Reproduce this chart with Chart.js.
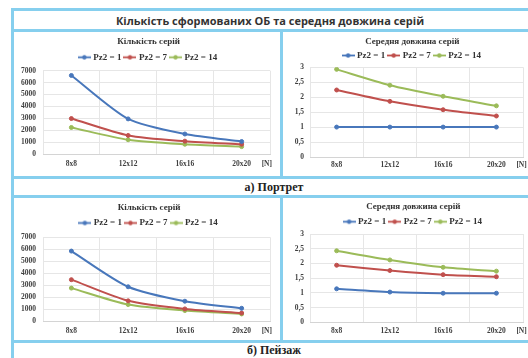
<!DOCTYPE html>
<html>
<head>
<meta charset="utf-8">
<script src="https://cdn.jsdelivr.net/npm/chart.js@4"></script>
<style>
  html, body { margin: 0; padding: 0; background: #ffffff; }
  #page { position: relative; width: 528px; height: 358px; overflow: hidden; background: #fff; }
  .ln { position: absolute; background: #86cfee; }
  .cell { position: absolute; }
  .cell canvas { display: block; }
  .txt { position: absolute; text-align: center; white-space: nowrap; }
  #mainTitle { left: 15px; width: 510px; top: 12px; height: 17px; line-height: 17px;
    font-family: "Open Sans", sans-serif; font-weight: 700; font-size: 11px; color: #333; }
  .cap { left: 15px; width: 518px; font-family: "Liberation Serif", serif; font-weight: 700;
    font-size: 12px; color: #222; }
</style>
</head>
<body>
<div id="page">
  <div class="ln" style="left:11px;top:8px;width:517px;height:3px"></div>
  <div class="ln" style="left:11px;top:29px;width:517px;height:3px"></div>
  <div class="ln" style="left:11px;top:176px;width:517px;height:3px"></div>
  <div class="ln" style="left:11px;top:195px;width:517px;height:3px"></div>
  <div class="ln" style="left:11px;top:340px;width:517px;height:3px"></div>
  <div class="ln" style="left:11px;top:8px;width:3px;height:350px"></div>
  <div class="ln" style="left:280px;top:32px;width:3px;height:144px"></div>
  <div class="ln" style="left:280px;top:198px;width:3px;height:142px"></div>

  <div class="txt" id="mainTitle">Кількість сформованих ОБ та середня довжина серій</div>
  <div class="txt cap" style="top:179px;height:16px;line-height:16px">а) Портрет</div>
  <div class="txt cap" style="top:343px;height:15px;line-height:15px">б) Пейзаж</div>

  <div class="cell" style="left:15px;top:33px;width:265px;height:143px"><canvas id="c1" width="265" height="143"></canvas></div>
  <div class="cell" style="left:284px;top:33px;width:244px;height:143px"><canvas id="c2" width="244" height="143"></canvas></div>
  <div class="cell" style="left:15px;top:198px;width:265px;height:142px"><canvas id="c3" width="265" height="142"></canvas></div>
  <div class="cell" style="left:284px;top:198px;width:244px;height:142px"><canvas id="c4" width="244" height="142"></canvas></div>
</div>
<script>
// ---------- data ----------
const categories = ['8x8', '12x12', '16x16', '20x20'];
const seriesNames = ['Pz2 = 1', 'Pz2 = 7', 'Pz2 = 14'];
const axisUnit = '[N]';
const countTitle = 'Кількість серій';
const lengthTitle = 'Середня довжина серій';

const portraitCount1  = [6600, 2950, 1680, 1050];
const portraitCount7  = [2980, 1560, 1080, 820];
const portraitCount14 = [2230, 1200, 820, 620];

const portraitLen1  = [1.0, 1.0, 1.0, 1.0];
const portraitLen7  = [2.24, 1.86, 1.58, 1.37];
const portraitLen14 = [2.93, 2.40, 2.03, 1.71];

const landscapeCount1  = [5850, 2880, 1680, 1090];
const landscapeCount7  = [3470, 1710, 1040, 700];
const landscapeCount14 = [2770, 1400, 900, 620];

const landscapeLen1  = [1.14, 1.03, 0.99, 0.99];
const landscapeLen7  = [1.94, 1.76, 1.62, 1.55];
const landscapeLen14 = [2.43, 2.12, 1.87, 1.74];

const countTicks  = ['0', '1000', '2000', '3000', '4000', '5000', '6000', '7000'];
const lengthTicks = ['0', '0,5', '1', '1,5', '2', '2,5', '3'];

// ---------- styling ----------
const colors = ['#4877bb', '#c0504d', '#9bbb59'];
const SERIF = '"Liberation Serif", "Times New Roman", serif';
const TICK_COLOR = '#3f3f3f';

function legendImage(color) {
  const c = document.createElement('canvas');
  c.width = 13; c.height = 7;
  const g = c.getContext('2d');
  g.strokeStyle = color; g.lineWidth = 1.8;
  g.beginPath(); g.moveTo(0, 3.5); g.lineTo(13, 3.5); g.stroke();
  g.fillStyle = color;
  g.beginPath(); g.arc(6.5, 3.5, 2.2, 0, Math.PI * 2); g.fill();
  return c;
}
const legendImgs = colors.map(legendImage);

const unitPlugin = {
  id: 'unitLabel',
  afterDraw(chart) {
    const xs = chart.scales.x;
    const ctx = chart.ctx;
    ctx.save();
    ctx.font = 'bold 7.5px ' + SERIF;
    ctx.fillStyle = TICK_COLOR;
    ctx.textAlign = 'left';
    ctx.textBaseline = 'middle';
    const x = xs.getPixelForValue(categories.length - 1) + 20;
    const y = xs.top + xs.options.ticks.padding + 4.5;
    ctx.fillText(axisUnit, x, y);
    ctx.restore();
  }
};

const headerPlugin = {
  id: 'header',
  afterInit(chart, args, opts) {
    const lg = chart.legend;
    if (lg && !lg._trimWrapped) {
      const orig = lg.fit.bind(lg);
      lg.fit = function () { orig(); this.height -= (opts.trim || 0); };
      lg._trimWrapped = true;
    }
  },
  afterLayout(chart, args, opts) {
    const dx = opts.dx || 0;
    if (chart.titleBlock) { chart.titleBlock.left += dx; chart.titleBlock.right += dx; }
    if (chart.legend) { chart.legend.left += dx; chart.legend.right += dx; }
  }
};

function makeChart(id, title, dataArrays, yMax, yStep, tickLabels, L) {
  const datasets = dataArrays.map((arr, i) => ({
    label: seriesNames[i],
    data: arr,
    borderColor: colors[i],
    backgroundColor: colors[i],
    pointBackgroundColor: colors[i],
    pointBorderColor: colors[i],
    pointRadius: 2,
    pointBorderWidth: 1,
    pointStyle: 'circle',
    borderWidth: 2,
    tension: 0.25,
    fill: false
  }));
  return new Chart(document.getElementById(id), {
    type: 'line',
    data: { labels: categories, datasets },
    plugins: [unitPlugin, headerPlugin],
    options: {
      responsive: false,
      animation: false,
      devicePixelRatio: 1,
      layout: { padding: { left: 0, right: L.padRight, top: 0, bottom: L.padBottom } },
      plugins: {
        header: { trim: L.trim, dx: L.dx },
        title: {
          display: true, text: title, color: '#333',
          font: { family: SERIF, size: 9, weight: 'bold', lineHeight: 1.1 },
          padding: { top: L.titleTop, bottom: L.titleBottom }
        },
        legend: {
          display: true,
          labels: {
            color: '#333',
            font: { family: SERIF, size: 9, weight: 'bold' },
            usePointStyle: true,
            pointStyleWidth: 9,
            padding: 4,
            generateLabels(chart) {
              return chart.data.datasets.map((d, i) => ({
                text: d.label, fillStyle: colors[i], strokeStyle: colors[i],
                lineWidth: 0, pointStyle: legendImgs[i], datasetIndex: i, hidden: false,
                fontColor: '#333'
              }));
            }
          }
        },
        tooltip: { enabled: false }
      },
      scales: {
        x: {
          type: 'category',
          offset: true,
          grid: { color: '#e6e6e6', lineWidth: 1, offset: true, drawTicks: false },
          border: { color: '#d4d4d4' },
          ticks: { color: TICK_COLOR, font: { family: SERIF, size: 7.5, weight: 'bold' }, padding: L.xPad, maxRotation: 0, autoSkip: false }
        },
        y: {
          min: 0, max: yMax,
          grid: { color: '#e6e6e6', lineWidth: 1, drawTicks: false },
          border: { display: false },
          ticks: {
            stepSize: yStep, color: TICK_COLOR, padding: L.yPad, autoSkip: false,
            font: { family: SERIF, size: 7.5, weight: 'bold' },
            callback: (v, i) => tickLabels[i]
          },
          afterFit(scale) { scale.width = L.yWidth; }
        }
      }
    }
  });
}

makeChart('c1', countTitle, [portraitCount1, portraitCount7, portraitCount14], 7000, 1000, countTicks,
  { padRight: 10, padBottom: 2, titleTop: 4.05, titleBottom: 1.85, trim: 1.1, xPad: 5.5, yPad: 7, yWidth: 28, dx: 6 });
makeChart('c2', lengthTitle, [portraitLen1, portraitLen7, portraitLen14], 3, 0.5, lengthTicks,
  { padRight: 3.5, padBottom: 3, titleTop: 4.05, titleBottom: 0, trim: 2.7, xPad: 3.5, yPad: 6, yWidth: 26, dx: 8 });
makeChart('c3', countTitle, [landscapeCount1, landscapeCount7, landscapeCount14], 7000, 1000, countTicks,
  { padRight: 10, padBottom: 0, titleTop: 5.05, titleBottom: 1.5, trim: 0.2, xPad: 4.8, yPad: 7, yWidth: 28, dx: 6.5 });
makeChart('c4', lengthTitle, [landscapeLen1, landscapeLen7, landscapeLen14], 3, 0.5, lengthTicks,
  { padRight: 3.5, padBottom: 1, titleTop: 4.05, titleBottom: 1.25, trim: 2.2, xPad: 3.8, yPad: 6, yWidth: 26, dx: 9 });
</script>
</body>
</html>
